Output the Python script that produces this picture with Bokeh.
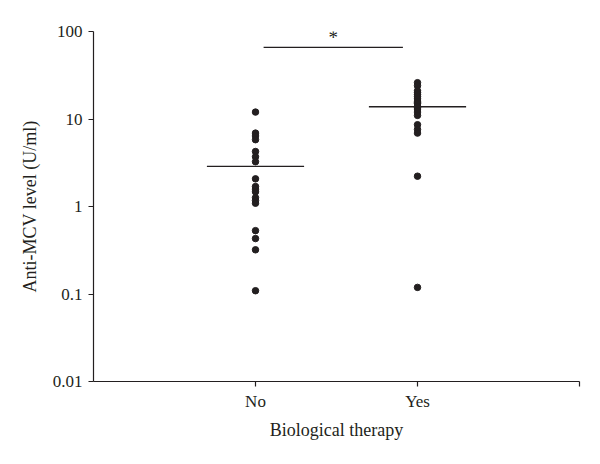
from bokeh.plotting import figure
from bokeh.models import FixedTicker
from bokeh.core.properties import value
from bokeh.embed import file_html
from bokeh.resources import INLINE

categories = ["No", "Yes"]
cat_pos = [1, 2]

no_values = [12.0, 6.9, 6.4, 5.8, 4.25, 3.7, 3.25, 2.07, 1.69, 1.58, 1.47,
             1.26, 1.17, 1.09, 0.53, 0.43, 0.32, 0.109]
yes_values = [26.0, 24.0, 21.0, 20.0, 19.0, 18.0, 17.0, 16.0, 15.5, 15.0,
              14.0, 13.5, 13.0, 12.0, 11.0, 8.6, 7.6, 6.9, 2.22, 0.119]
medians = [2.87, 13.8]

y_ticks = [0.01, 0.1, 1, 10, 100]
y_tick_labels = ["0.01", "0.1", "1", "10", "100"]

sig_bar_x = [1.05, 1.91]
sig_bar_y = 66.0
sig_star_y = 86.0
sig_label = "*"

FONT = "Liberation Serif"
INK = "#231f20"

p = figure(width=600, height=448, y_axis_type="log",
           x_range=(0, 3), y_range=(0.01, 100),
           output_backend="svg", toolbar_location=None,
           min_border_left=93, min_border_right=21,
           min_border_top=31, min_border_bottom=67)

p.outline_line_color = None
p.xgrid.grid_line_color = None
p.ygrid.grid_line_color = None
p.background_fill_color = "white"
p.border_fill_color = "white"

# points
xs = [cat_pos[0]] * len(no_values) + [cat_pos[1]] * len(yes_values)
ys = no_values + yes_values
p.scatter(x=xs, y=ys, size=6.5, fill_color=INK, line_color=INK)

# medians
p.segment(x0=[c - 0.3 for c in cat_pos], x1=[c + 0.3 for c in cat_pos],
          y0=medians, y1=medians, line_color=INK, line_width=1.3)

# significance bar
p.segment(x0=[sig_bar_x[0]], x1=[sig_bar_x[1]], y0=[sig_bar_y], y1=[sig_bar_y],
          line_color=INK, line_width=1.3)
p.text(x=[(sig_bar_x[0] + sig_bar_x[1]) / 2], y=[sig_star_y], text=[sig_label],
       text_font=value(FONT), text_font_size="19px", text_color=INK,
       text_align="center", text_baseline="middle")

# axes
p.yaxis.ticker = FixedTicker(ticks=y_ticks)
p.yaxis.major_label_overrides = {t: l for t, l in zip(y_ticks, y_tick_labels)}
p.xaxis.ticker = FixedTicker(ticks=[1, 2, 3])
p.xaxis.major_label_overrides = {1: categories[0], 2: categories[1], 3: ""}

for ax in (p.xaxis[0], p.yaxis[0]):
    ax.axis_line_color = INK
    ax.axis_line_width = 1.2
    ax.major_tick_line_color = INK
    ax.major_tick_line_width = 1.2
    ax.major_tick_in = 0
    ax.major_tick_out = 5
    ax.minor_tick_line_color = None
    ax.major_label_text_font = FONT
    ax.major_label_text_font_size = "17px"
    ax.major_label_text_color = INK
    ax.axis_label_text_font = FONT
    ax.axis_label_text_font_size = "18px"
    ax.axis_label_text_font_style = "normal"
    ax.axis_label_text_color = INK

p.xaxis.axis_label = "Biological therapy"
p.yaxis.axis_label = "Anti-MCV level (U/ml)"
p.xaxis.major_label_standoff = 5
p.xaxis.axis_label_standoff = 6
p.yaxis.major_label_standoff = 6
p.yaxis.axis_label_standoff = 10

open("out.html", "w").write(file_html(p, INLINE))
